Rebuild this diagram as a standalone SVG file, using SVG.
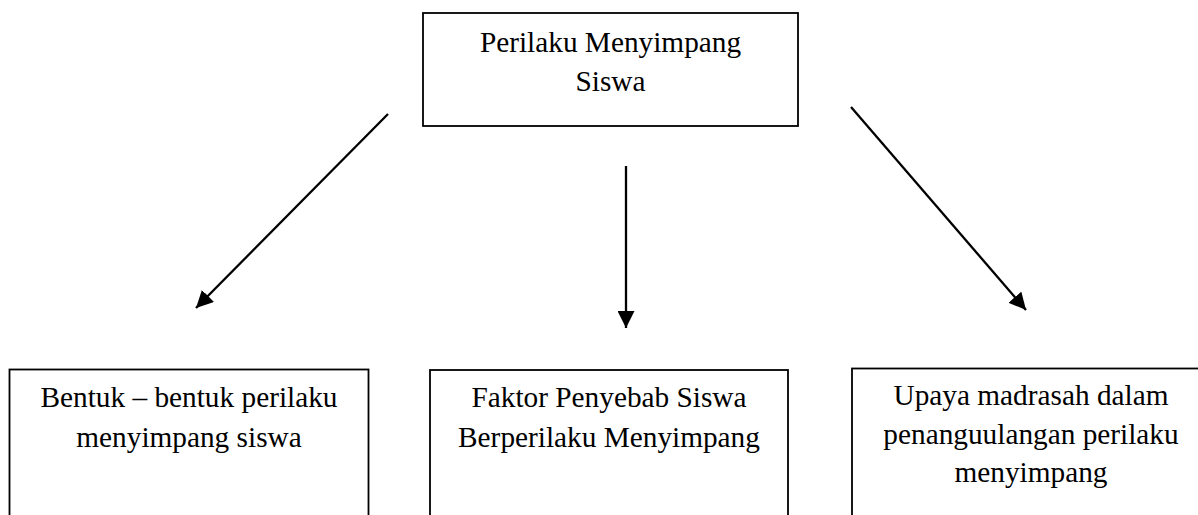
<svg xmlns="http://www.w3.org/2000/svg" width="1198" height="515" viewBox="0 0 1198 515">
  <style>
    .box { fill: #ffffff; stroke: #000000; stroke-width: 1.8; }
    .lbl { font-family: "Liberation Serif", "Times New Roman", serif; font-size: 29.3px; fill: #000000; text-anchor: middle; }
    .conn { stroke: #000000; stroke-width: 2.3; fill: none; marker-end: url(#arrow); }
  </style>
  <defs>
    <marker id="arrow" viewBox="0 0 16 16" refX="16" refY="8" markerWidth="17" markerHeight="17" markerUnits="userSpaceOnUse" orient="auto">
      <path d="M0,0 L16,8 L0,16 z" fill="#000000"/>
    </marker>
  </defs>
  <rect width="1198" height="515" fill="#ffffff"/>

  <g id="node-root">
    <rect class="box" x="423" y="13" width="375" height="113"/>
    <text class="lbl" x="610.5" y="52">Perilaku Menyimpang</text>
    <text class="lbl" x="610.5" y="91">Siswa</text>
  </g>

  <g id="node-bentuk">
    <rect class="box" x="9.5" y="369.5" width="359" height="170"/>
    <text class="lbl" x="189" y="407">Bentuk – bentuk perilaku</text>
    <text class="lbl" x="189" y="447">menyimpang siswa</text>
  </g>

  <g id="node-faktor">
    <rect class="box" x="430" y="370" width="358" height="170"/>
    <text class="lbl" x="609" y="407">Faktor Penyebab Siswa</text>
    <text class="lbl" x="609" y="447">Berperilaku Menyimpang</text>
  </g>

  <g id="node-upaya">
    <rect class="box" x="852" y="368.5" width="360" height="170"/>
    <text class="lbl" x="1031" y="405">Upaya madrasah dalam</text>
    <text class="lbl" x="1031" y="443.5">penanguulangan perilaku</text>
    <text class="lbl" x="1031" y="482">menyimpang</text>
  </g>

  <g id="connectors">
    <line class="conn" x1="388" y1="114" x2="196" y2="308"/>
    <line class="conn" x1="626" y1="166" x2="626" y2="328"/>
    <line class="conn" x1="851" y1="107" x2="1026" y2="310"/>
  </g>
</svg>
